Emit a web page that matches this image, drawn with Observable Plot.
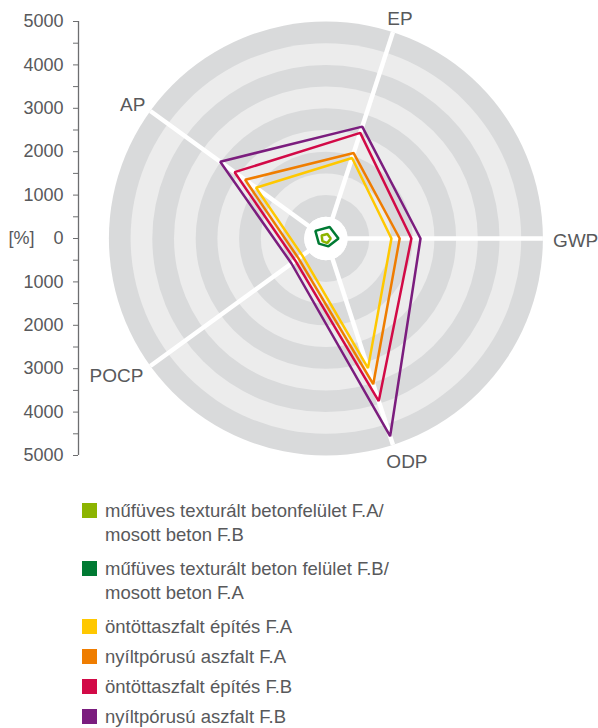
<!DOCTYPE html>
<html>
<head>
<meta charset="utf-8">
<script src="https://cdn.jsdelivr.net/npm/d3@7"></script>
<script src="https://cdn.jsdelivr.net/npm/@observablehq/plot@0.6"></script>
<style>
  html, body { margin: 0; padding: 0; background: #fff; overflow: hidden; }
  body { width: 598px; height: 728px; font-family: "Liberation Sans", Arial, sans-serif; }
  #legend { margin-top: 9px; padding-left: 82px; color: #58595b; font-size: 18.5px; }
  .item { display: flex; align-items: flex-start; line-height: 24px; margin-bottom: 6px; }
  .item.two { margin-bottom: 10px; }
  .sw { width: 14.5px; height: 14.5px; margin-top: 4px; margin-right: 8.5px; flex: none; }
</style>
</head>
<body>
<div id="chart"></div>
<div id="legend"></div>
<script>
// ---- data ----
const axes = ["GWP", "EP", "AP", "POCP", "ODP"];
const seriesNames = [
  "műfüves texturált betonfelület F.A/ mosott beton F.B",
  "műfüves texturált beton felület F.B/ mosott beton F.A",
  "öntöttaszfalt építés F.A",
  "nyíltpórusú aszfalt F.A",
  "öntöttaszfalt építés F.B",
  "nyíltpórusú aszfalt F.B"
];
const seriesColors = ["#8cb400", "#007a33", "#ffc800", "#ef7d00", "#d20a47", "#7b1d7e"];
// values per axis in order GWP, EP, AP, POCP, ODP  [%]
const lightGreen = [110, 110, 120, 100, 110];
const darkGreen  = [290, 280, 300, 200, 190];
const yellowA    = [1510, 1950, 1990, 670, 3140];
const orangeA    = [1700, 2070, 2300, 780, 3530];
const redB       = [1970, 2560, 2600, 870, 3940];
const purpleB    = [2180, 2710, 3010, 980, 4790];
const seriesValues = [lightGreen, darkGreen, yellowA, orangeA, redB, purpleB];
const tickValues = [-5000, -4000, -3000, -2000, -1000, 0, 1000, 2000, 3000, 4000, 5000];
const minorTickValues = [-4500, -3500, -2500, -1500, -500, 500, 1500, 2500, 3500, 4500];
const ringValues = [5000, 4500, 4000, 3500, 3000, 2500, 2000, 1500, 1000, 500];
const unitLabel = "[%]";

// ---- geometry ----
const maxV = 5000;
const W = 598, H = 490;
const mTop = 21, mLeft = 78, mBottom = 35, mRight = 0;
const ppu = (H - mTop - mBottom) / (2 * maxV);   // px per unit
const cxPx = 325.4;
const xDomain = [(mLeft - cxPx) / ppu, (W - mRight - cxPx) / ppu];
const angleOf = i => (i * 72) * Math.PI / 180;

const polyData = [];
seriesValues.forEach((vals, s) => {
  vals.forEach((v, i) => {
    polyData.push({series: seriesNames[s], axis: axes[i], x: v * Math.cos(angleOf(i)), y: v * Math.sin(angleOf(i))});
  });
});
const spokes = axes.map((a, i) => ({axis: a, x: maxV * Math.cos(angleOf(i)), y: maxV * Math.sin(angleOf(i))}));
const labelStyle = {
  GWP: {dx: 10, dy: 2, anchor: "start"},
  EP: {dx: 7, dy: -13, anchor: "middle"},
  AP: {dx: -5, dy: -6, anchor: "end"},
  POCP: {dx: -7, dy: 10, anchor: "end"},
  ODP: {dx: 14, dy: 17.5, anchor: "middle"}
};

const ringMarks = ringValues.map((v, k) =>
  Plot.dot([{x: 0, y: 0}], {x: "x", y: "y", r: v * ppu,
    fill: v === 500 ? "#ffffff" : (k % 2 === 0 ? "#d9dadb" : "#ececec"), stroke: null})
);

const labelMarks = spokes.map(s => Plot.text([s], {
  x: "x", y: "y", text: "axis",
  dx: labelStyle[s.axis].dx, dy: labelStyle[s.axis].dy,
  textAnchor: labelStyle[s.axis].anchor,
  fontSize: 19, fill: "#58595b"
}));

const chart = Plot.plot({
  width: W, height: H,
  marginTop: mTop, marginBottom: mBottom, marginLeft: mLeft, marginRight: mRight,
  style: {fontFamily: "'Liberation Sans', Arial, sans-serif", fontSize: "18px", background: "#fff", overflow: "visible"},
  x: {domain: xDomain, axis: null},
  y: {domain: [-maxV, maxV], axis: null},
  color: {domain: seriesNames, range: seriesColors},
  marks: [
    ...ringMarks,
    Plot.link(spokes, {x1: 0, y1: 0, x2: "x", y2: "y", stroke: "#ffffff", strokeWidth: 4.5}),
    Plot.dot([{x: 0, y: 0}], {x: "x", y: "y", r: 500 * ppu, fill: "#ffffff"}),
    Plot.line(polyData, {x: "x", y: "y", z: "series", stroke: "series", strokeWidth: 2.5, curve: "linear-closed", strokeLinejoin: "miter"}),
    ...labelMarks,
    Plot.ruleX([xDomain[0]], {y1: -maxV, y2: maxV, stroke: "#6d6e70", strokeWidth: 1.3}),
    Plot.axisY({ticks: tickValues, tickFormat: d => String(Math.abs(d)), tickSize: 5, tickPadding: 10, stroke: "#6d6e70", fill: "#58595b", fontSize: 18, label: null}),
    Plot.axisY({ticks: minorTickValues, tickFormat: () => "", tickSize: 5, stroke: "#6d6e70", label: null}),
    Plot.text([unitLabel], {x: xDomain[0], y: 0, text: d => d, dx: -70, textAnchor: "start", fontSize: 18, fill: "#58595b"})
  ]
});
document.getElementById("chart").appendChild(chart);

// legend
const legend = document.getElementById("legend");
seriesNames.forEach((name, i) => {
  const item = document.createElement("div");
  const parts = name.split("/ ");
  item.className = "item" + (parts.length > 1 ? " two" : "");
  const sw = document.createElement("div");
  sw.className = "sw";
  sw.style.background = seriesColors[i];
  const txt = document.createElement("div");
  txt.innerHTML = parts.length > 1 ? parts[0] + "/<br>" + parts[1] : name;
  item.appendChild(sw);
  item.appendChild(txt);
  legend.appendChild(item);
});
</script>
</body>
</html>
